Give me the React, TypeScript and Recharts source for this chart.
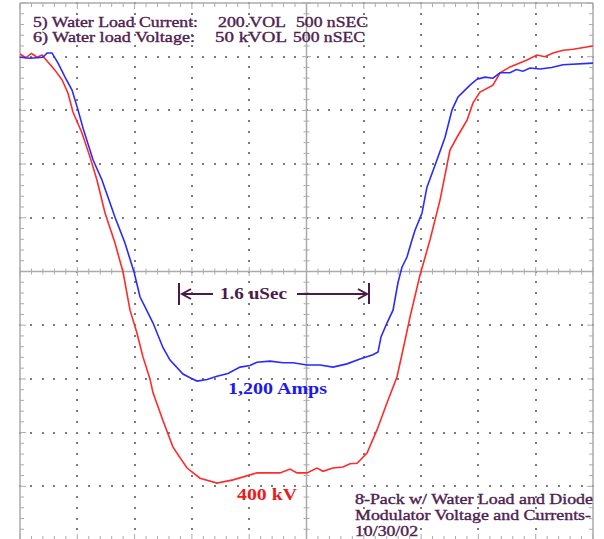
import React from 'react';
import { ComposedChart, Line, XAxis, YAxis, ReferenceLine } from 'recharts';

// time in ns (500 ns / division), level in screen divisions (0 = bottom, 10 = top)
const blueTimes = [0, 87, 200, 236, 279, 332, 393, 454, 506, 550, 637, 716, 829, 916, 995, 1047, 1161, 1248, 1309, 1422, 1484, 1545, 1632, 1719, 1815, 1920, 2007, 2068, 2182, 2295, 2382, 2504, 2618, 2731, 2853, 2967, 3080, 3124, 3150, 3202, 3255, 3299, 3333, 3377, 3421, 3447, 3508, 3551, 3639, 3709, 3770, 3822, 3927, 3988, 4058, 4127, 4189, 4276, 4330, 4389, 4450, 4538, 4640, 4738, 5000];
const blueLevels = [8.99, 8.97, 8.99, 9.07, 9.07, 8.88, 8.62, 8.38, 8.01, 7.67, 7.08, 6.7, 6.01, 5.53, 4.99, 4.53, 4.04, 3.58, 3.35, 3.09, 3.02, 2.96, 2.99, 3.05, 3.1, 3.22, 3.25, 3.31, 3.33, 3.3, 3.3, 3.26, 3.26, 3.22, 3.28, 3.37, 3.45, 3.5, 3.78, 4.04, 4.28, 4.8, 5.08, 5.27, 5.59, 5.77, 6.09, 6.57, 7.08, 7.5, 8.01, 8.25, 8.47, 8.58, 8.62, 8.6, 8.7, 8.7, 8.76, 8.73, 8.79, 8.77, 8.8, 8.85, 8.88];

const redTimes = [0, 50, 100, 150, 192, 236, 305, 367, 419, 462, 541, 611, 672, 742, 829, 899, 960, 1021, 1073, 1134, 1161, 1248, 1335, 1457, 1571, 1719, 1859, 2068, 2269, 2356, 2417, 2504, 2592, 2644, 2731, 2818, 2880, 2941, 3028, 3115, 3202, 3290, 3360, 3403, 3490, 3578, 3665, 3752, 3813, 3901, 3953, 4014, 4127, 4189, 4276, 4424, 4511, 4580, 4651, 4740, 4826, 5000];
const redLevels = [9.05, 8.98, 9.06, 8.99, 9.03, 8.92, 8.75, 8.57, 8.32, 7.97, 7.58, 7.13, 6.7, 6.09, 5.53, 4.99, 4.28, 3.85, 3.41, 3.0, 2.74, 2.22, 1.73, 1.34, 1.15, 1.06, 1.12, 1.25, 1.25, 1.32, 1.25, 1.25, 1.34, 1.28, 1.34, 1.36, 1.42, 1.43, 1.62, 2.05, 2.55, 3.04, 3.72, 4.15, 4.93, 5.59, 6.33, 7.26, 7.5, 7.82, 8.14, 8.34, 8.47, 8.7, 8.81, 8.94, 9.03, 9.0, 9.07, 9.12, 9.14, 9.2];

const majorTimes = [500, 1000, 1500, 2000, 3000, 3500, 4000, 4500];
const majorLevels = [1, 2, 3, 4, 6, 7, 8, 9];
const centerTime = 2500;
const centerLevel = 5;
const timeRange = [0, 5000];
const levelRange = [0, 10];
const MINOR_STEPS = 50; // 5 minor subdivisions per division, 10 divisions

const blueData = blueTimes.map((t, i) => ({ t, v: blueLevels[i] }));
const redData = redTimes.map((t, i) => ({ t, v: redLevels[i] }));

const SERIF = "'Liberation Serif', 'Times New Roman', serif";
const PURPLE = '#4f214f';
const GRID = '#7a7a7a';
const AXIS = '#ababab';

const Txt = ({ x, y, w, size, weight = 'normal', fill = PURPLE, bolden = 0, children }: any) => (
  <text x={x} y={y} textLength={w} lengthAdjust="spacingAndGlyphs" fontSize={size} fontWeight={weight} fill={fill}
    stroke={bolden ? fill : 'none'} strokeWidth={bolden} fontFamily={SERIF}>
    {children}
  </text>
);

// positions of minor subdivisions along a reference line segment (from the library's pixel endpoints)
const minorPoints = (p: any) => {
  const x1 = Number(p.x1), x2 = Number(p.x2), y1 = Number(p.y1), y2 = Number(p.y2);
  return Array.from({ length: MINOR_STEPS + 1 }, (_, k) => ({
    k,
    x: x1 + ((x2 - x1) * k) / MINOR_STEPS,
    y: y1 + ((y2 - y1) * k) / MINOR_STEPS,
  }));
};

const dottedShape = (p: any) => (
  <g>
    {minorPoints(p).map((q) => (
      <rect key={q.k} x={Math.round(q.x) - 1} y={Math.round(q.y) - 1} width={2} height={2} fill={GRID} />
    ))}
  </g>
);

// ruler: solid line with tick marks in direction (dirX, dirY)
const rulerShape = (dirX: number, dirY: number, before: number, after: number) => (p: any) => (
  <g>
    <line x1={p.x1} y1={p.y1} x2={p.x2} y2={p.y2} stroke={AXIS} strokeWidth={1.5} />
    {minorPoints(p).map((q) => {
      const ext = q.k % 5 === 0 ? 1.5 : 1;
      return (
        <line
          key={q.k}
          x1={q.x - dirX * before * ext}
          y1={q.y - dirY * before * ext}
          x2={q.x + dirX * after * ext}
          y2={q.y + dirY * after * ext}
          stroke={AXIS}
          strokeWidth={1}
        />
      );
    })}
  </g>
);

export default function App() {
  return (
    <div style={{ position: 'absolute', left: 0, top: 0, width: 604, height: 539, overflow: 'hidden', background: '#fff' }}>
      <ComposedChart width={604} height={540} margin={{ top: 3, right: 11, bottom: 0, left: 20 }}>
        <XAxis xAxisId="b" type="number" dataKey="t" domain={timeRange} hide allowDataOverflow />
        <YAxis yAxisId="l" type="number" dataKey="v" domain={levelRange} hide allowDataOverflow />

        {majorTimes.map((t) => (
          <ReferenceLine key={'gx' + t} x={t} xAxisId="b" yAxisId="l" ifOverflow="visible" shape={dottedShape} />
        ))}
        {majorLevels.map((v) => (
          <ReferenceLine key={'gy' + v} y={v} xAxisId="b" yAxisId="l" ifOverflow="visible" shape={dottedShape} />
        ))}
        <ReferenceLine x={centerTime} xAxisId="b" yAxisId="l" shape={rulerShape(1, 0, 3, 3)} />
        <ReferenceLine y={centerLevel} xAxisId="b" yAxisId="l" shape={rulerShape(0, 1, 3, 3)} />
        <ReferenceLine x={timeRange[0]} xAxisId="b" yAxisId="l" shape={rulerShape(1, 0, 0, 4)} />
        <ReferenceLine x={timeRange[1]} xAxisId="b" yAxisId="l" shape={rulerShape(-1, 0, 0, 4)} />
        <ReferenceLine y={levelRange[1]} xAxisId="b" yAxisId="l" shape={rulerShape(0, 1, 0, 4)} />
        <ReferenceLine y={levelRange[0]} xAxisId="b" yAxisId="l" shape={rulerShape(0, -1, 0, 4)} />

        <Line data={redData} dataKey="v" xAxisId="b" yAxisId="l" type="linear" stroke="#ff2a2a" strokeWidth={1.6} dot={false} isAnimationActive={false} />
        <Line data={blueData} dataKey="v" xAxisId="b" yAxisId="l" type="linear" stroke="#2a2aff" strokeWidth={1.6} dot={false} isAnimationActive={false} />
      </ComposedChart>

      <svg width={604} height={539} style={{ position: 'absolute', left: 0, top: 0, pointerEvents: 'none' }}>
        <Txt x={33} y={27} w={165} size={14} bolden={0.35}>5) Water Load Current:</Txt>
        <Txt x={218} y={27} w={68} size={14} bolden={0.35}>200.VOL</Txt>
        <Txt x={296} y={27} w={72} size={14} bolden={0.35}>500 nSEC</Txt>
        <Txt x={33} y={42} w={162} size={14} bolden={0.35}>6) Water load Voltage:</Txt>
        <Txt x={215} y={42} w={72} size={14} bolden={0.35}>50 kVOL</Txt>
        <Txt x={293} y={42} w={72} size={14} bolden={0.35}>500 nSEC</Txt>

        <g stroke="#4a1a4a" strokeWidth={2} fill="none">
          <line x1={179} y1={283} x2={179} y2={305} />
          <line x1={182} y1={294} x2={213} y2={294} />
          <polyline points="191,289 182,294 191,299" />
          <line x1={297} y1={294} x2={367} y2={294} />
          <polyline points="358,289 367,294 358,299" />
          <line x1={369} y1={283} x2={369} y2={304} />
        </g>
        <Txt x={220} y={299} w={67} size={16} weight="bold" fill="#4a1a4a">1.6 uSec</Txt>

        <Txt x={228} y={394} w={99} size={17} weight="bold" fill="#1a1aee">1,200 Amps</Txt>
        <Txt x={237} y={500} w={60} size={17} weight="bold" fill="#ee1a1a">400 kV</Txt>

        <Txt x={355} y={504} w={238} size={14} bolden={0.35}>8-Pack w/ Water Load and Diode</Txt>
        <Txt x={355} y={520} w={236} size={14} bolden={0.35}>Modulator Voltage and Currents-</Txt>
        <Txt x={355} y={536} w={63} size={14} bolden={0.35}>10/30/02</Txt>
      </svg>
    </div>
  );
}
